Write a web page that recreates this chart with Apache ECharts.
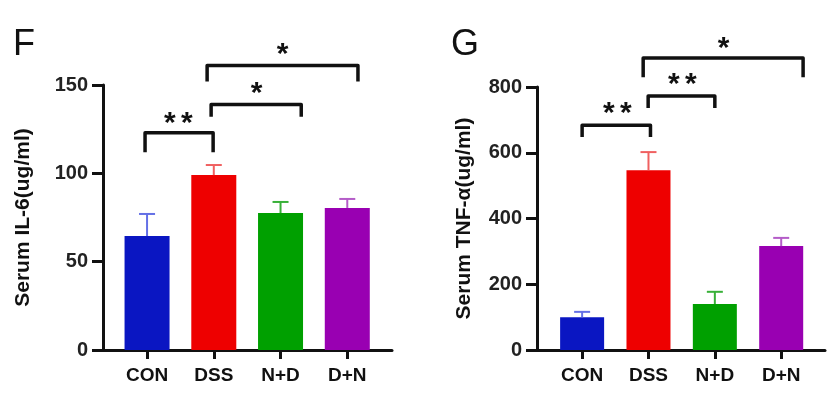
<!DOCTYPE html>
<html>
<head>
    <meta charset="utf-8">
    <title>IL-6 / TNF-a</title>
    <script src="https://cdn.jsdelivr.net/npm/echarts@6/dist/echarts.min.js"></script>
    <style type="text/css">
        body{margin:0;background:#fff;}
        #main{width:837px;height:399px;}
    </style>
</head>
<body>
    <div id="main"></div>
    <script type="text/javascript">
        // data
        const categories = ['CON', 'DSS', 'N+D', 'D+N'];
        const il6Mean = [64.5, 99, 77.5, 80.4];
        const il6Err = [12.5, 5.7, 6.3, 5.1];
        const tnfMean = [100, 547, 140, 316];
        const tnfErr = [16, 55, 37, 25];
        const il6Ticks = [0, 50, 100, 150];
        const tnfTicks = [0, 200, 400, 600, 800];
        const barColors = ['#0a16c2', '#ee0000', '#00a000', '#9900b2'];
        const errColors = ['#6470e6', '#f06060', '#38b038', '#b45cc8'];
        // significance brackets: x from, x to, bracket top, leg end, star text, star x, star y
        const il6Brackets = [
            [-0.03, 0.99, 123, 112, '**', 0.47, 132],
            [0.96, 2.31, 139, 132, '*', 1.64, 149],
            [0.90, 3.16, 161, 152, '*', 2.03, 171]
        ];
        const tnfBrackets = [
            [0, 1.03, 684, 648, '**', 0.53, 739],
            [0.995, 2.0, 773, 736, '**', 1.51, 827],
            [0.92, 3.33, 888, 830, '*', 2.13, 937]
        ];

        const FONT = "'Liberation Sans', Arial, sans-serif";
        var myChart = echarts.init(document.getElementById('main'));

        function errRender(errs){
            return function(params, api){
                var i = params.dataIndex;
                var x = api.value(0), m = api.value(1);
                var p0 = api.coord([x, m]);
                var p1 = api.coord([x, m + errs[i]]);
                var st = {stroke: errColors[i], lineWidth: 2};
                return {type: 'group', children: [
                    {type: 'line', shape: {x1: p0[0], y1: p0[1], x2: p1[0], y2: p1[1]}, style: st},
                    {type: 'line', shape: {x1: p1[0] - 8, y1: p1[1], x2: p1[0] + 8, y2: p1[1]}, style: st}
                ]};
            };
        }
        function bracketRender(list){
            return function(params, api){
                var b = list[params.dataIndex];
                var pts = [api.coord([b[0], b[3]]), api.coord([b[0], b[2]]), api.coord([b[1], b[2]]), api.coord([b[1], b[3]])];
                var s = api.coord([b[5], b[6]]);
                var kids = [{type: 'polyline', shape: {points: pts}, style: {stroke: '#111', lineWidth: 3.5, fill: null, lineJoin: 'round'}}];
                var n = b[4].length;
                for (var k = 0; k < n; k++) {
                    kids.push({type: 'text', x: s[0] + (k - (n - 1) / 2) * 17, y: s[1] + 7,
                        style: {text: '*', font: 'bold 30px ' + FONT, align: 'center', verticalAlign: 'middle', fill: '#111'}});
                }
                return {type: 'group', children: kids};
            };
        }
        function barData(means){
            return means.map(function(v, i){ return {value: [i, v], itemStyle: {color: barColors[i]}}; });
        }
        function xAx(idx, min, max){
            return {
                type: 'value', gridIndex: idx, min: min, max: max,
                axisLine: {show: true, lineStyle: {color: '#111', width: 3}},
                axisTick: {show: true, length: 9, lineStyle: {color: '#111', width: 3}, customValues: [0, 1, 2, 3]},
                axisLabel: {customValues: [0, 1, 2, 3], formatter: function(v){ return categories[Math.round(v)]; },
                    color: '#111', fontFamily: FONT, fontWeight: 'bold', fontSize: 19, margin: 16},
                splitLine: {show: false}
            };
        }
        function yAx(idx, ticks, name, gap){
            return {
                type: 'value', gridIndex: idx, min: ticks[0], max: ticks[ticks.length - 1], interval: ticks[1] - ticks[0],
                name: name, nameLocation: 'middle', nameRotate: 90, nameGap: gap,
                nameTextStyle: {color: '#111', fontFamily: FONT, fontWeight: 'bold', fontSize: 21},
                axisLine: {show: true, onZero: false, lineStyle: {color: '#111', width: 3}},
                axisTick: {show: true, length: 11, lineStyle: {color: '#111', width: 3}},
                axisLabel: {color: '#222', fontFamily: FONT, fontWeight: 'bold', fontSize: 20, margin: 15},
                splitLine: {show: false}
            };
        }

        option = {
            animation: false,
            title: [
                {text: 'F', left: 8, top: 22, textStyle: {fontFamily: FONT, fontWeight: 'normal', fontSize: 36, color: '#111'}},
                {text: 'G', left: 446, top: 22, textStyle: {fontFamily: FONT, fontWeight: 'normal', fontSize: 36, color: '#111'}}
            ],
            grid: [
                {left: 103, width: 289, top: 85, bottom: 49},
                {left: 537, width: 288, top: 87, bottom: 49}
            ],
            xAxis: [xAx(0, -0.66, 3.67), xAx(1, -0.68, 3.66)],
            yAxis: [yAx(0, il6Ticks, 'Serum IL-6(ug/ml)', 69), yAx(1, tnfTicks, 'Serum TNF-α(ug/ml)', 62)],
            series: [
                {type: 'bar', xAxisIndex: 0, yAxisIndex: 0, barWidth: 45, data: barData(il6Mean)},
                {type: 'custom', xAxisIndex: 0, yAxisIndex: 0, clip: false, z: 3, renderItem: errRender(il6Err),
                    data: il6Mean.map(function(v, i){ return [i, v]; })},
                {type: 'custom', xAxisIndex: 0, yAxisIndex: 0, clip: false, renderItem: bracketRender(il6Brackets),
                    data: il6Brackets.map(function(b){ return [b[0], b[3]]; })},
                {type: 'bar', xAxisIndex: 1, yAxisIndex: 1, barWidth: 44, data: barData(tnfMean)},
                {type: 'custom', xAxisIndex: 1, yAxisIndex: 1, clip: false, z: 3, renderItem: errRender(tnfErr),
                    data: tnfMean.map(function(v, i){ return [i, v]; })},
                {type: 'custom', xAxisIndex: 1, yAxisIndex: 1, clip: false, renderItem: bracketRender(tnfBrackets),
                    data: tnfBrackets.map(function(b){ return [b[0], b[3]]; })}
            ]
        };
        myChart.setOption(option);
    </script>
</body>
</html>
